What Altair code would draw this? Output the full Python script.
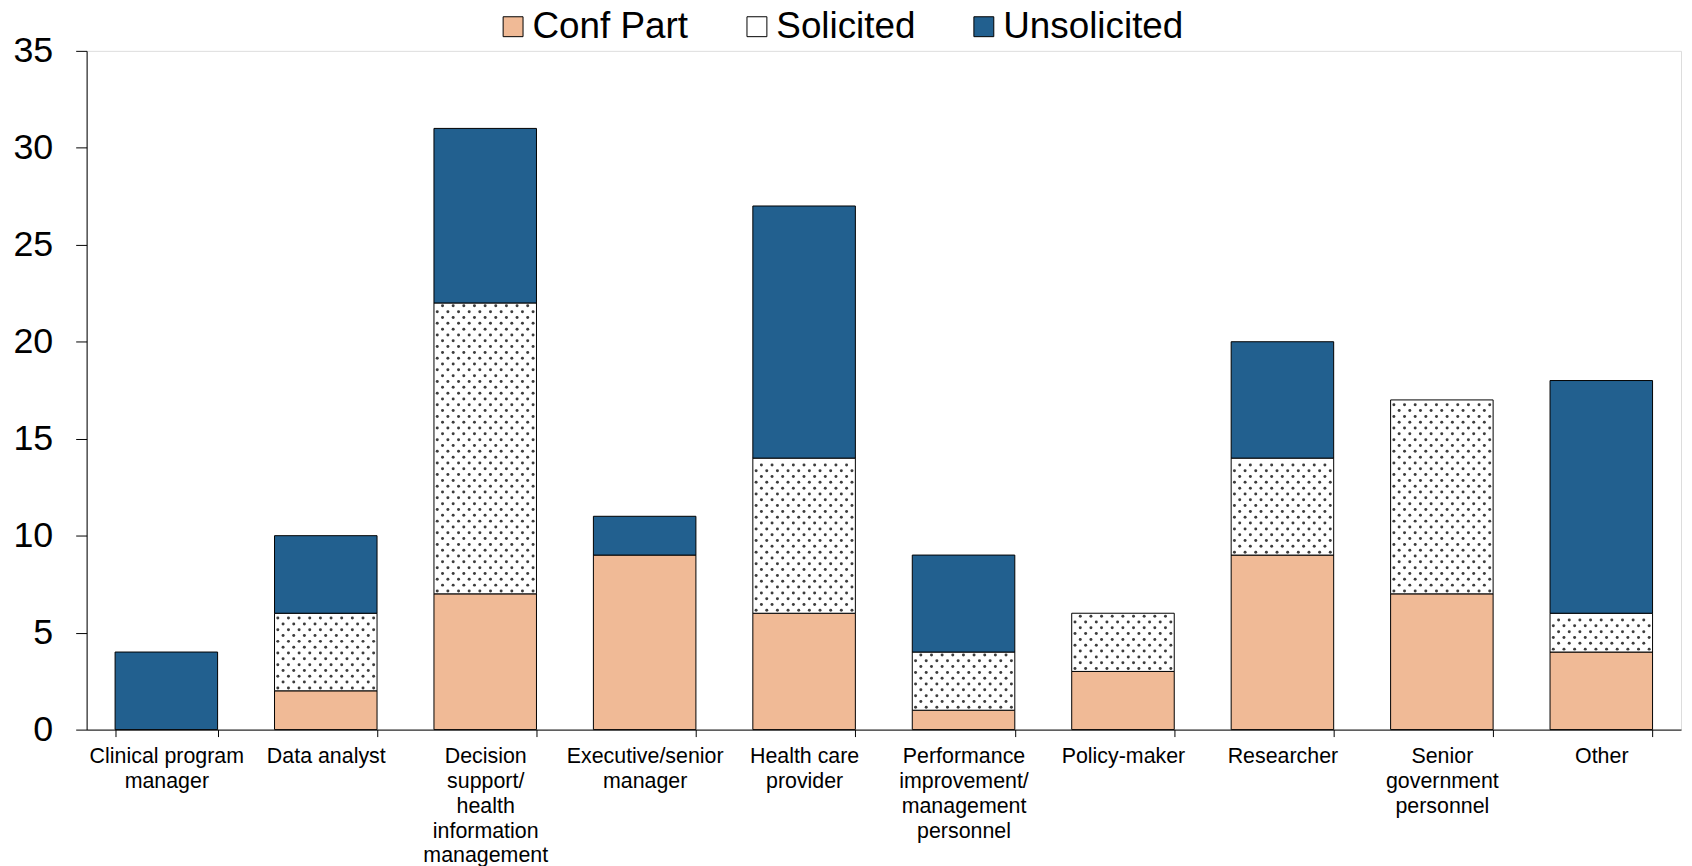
import altair as alt
import pandas as pd

# ---- data ----
categories = [
    "Clinical program|manager",
    "Data analyst",
    "Decision|support/|health|information|management",
    "Executive/senior|manager",
    "Health care|provider",
    "Performance|improvement/|management|personnel",
    "Policy-maker",
    "Researcher",
    "Senior|government|personnel",
    "Other",
]
series = ["Conf Part", "Solicited", "Unsolicited"]
conf_part = [0, 2, 7, 9, 6, 1, 3, 9, 7, 4]
solicited = [0, 4, 15, 0, 8, 3, 3, 5, 10, 2]
unsolicited = [4, 4, 9, 2, 13, 5, 0, 6, 0, 12]
y_ticks = [0, 5, 10, 15, 20, 25, 30, 35]

colors = ["#F0BA96", "#FFFFFF", "#22608F"]
FONT = "Liberation Sans"

rows = []
for i, c in enumerate(categories):
    for k, (s, vals) in enumerate(zip(series, [conf_part, solicited, unsolicited])):
        rows.append({"cat": c, "idx": i, "series": s, "value": vals[i], "ord": k})
df = pd.DataFrame(rows)

PAD_IN = 0.357
PAD_OUT = 0.1785
x_scale = alt.Scale(paddingInner=PAD_IN, paddingOuter=PAD_OUT, round=False)
y_scale = alt.Scale(domain=[0, 35], nice=False)

x_axis = alt.Axis(
    title=None, labelAngle=0, tickBand="extent", labelExpr="split(datum.label, '|')",
    labelFont=FONT, labelFontSize=21.5, labelLineHeight=25, labelColor="black",
    labelPadding=9, labelBaseline="top", tickSize=7, tickColor="black",
    domainColor="black", labelLimit=300, grid=False,
)
y_axis = alt.Axis(
    title=None, values=y_ticks, labelFont=FONT, labelFontSize=36, labelColor="black",
    labelPadding=23, tickSize=11, tickColor="black", domainColor="black", grid=False,
)

base = alt.Chart(df).transform_filter("datum.value > 0").transform_stack(
    stack="value", groupby=["cat"], as_=["y0", "y1"], sort=[alt.SortField("ord")]
)

bars = base.mark_bar(stroke="black", strokeWidth=1, opacity=1).encode(
    x=alt.X("cat:N", sort=categories, scale=x_scale, axis=x_axis),
    y=alt.Y("y1:Q", scale=y_scale, axis=y_axis),
    y2="y0:Q",
    color=alt.Color(
        "series:N",
        scale=alt.Scale(domain=series, range=colors),
        legend=alt.Legend(
            title=None, orient="none", direction="horizontal", legendX=410, legendY=-43,
            padding=0, symbolType="square", symbolSize=400, symbolStrokeColor="black",
            symbolStrokeWidth=1, symbolOpacity=1, labelFont=FONT, labelFontSize=37,
            labelColor="black", labelOffset=1, columnPadding=50, labelLimit=500,
        ),
    ),
)

# dotted texture of the Solicited segments (band geometry: step = 1/10 of width)
dots = (
    base.transform_filter("datum.series == 'Solicited'")
    .transform_calculate(ry="sequence(datum.y0 + 0.15, datum.y1 - 0.05, 0.3)")
    .transform_flatten(["ry"])
    .transform_calculate(
        ri="round((datum.ry - datum.y0 - 0.15) / 0.3)", cx="sequence(0, 10)"
    )
    .transform_flatten(["cx"])
    .transform_calculate(frac="(3.3 + datum.cx * 10.7 + (datum.ri % 2) * 5.3) / 160.2")
    .transform_filter(f"datum.frac < {1 - PAD_IN} - 0.012")
    .transform_calculate(xq=f"datum.idx + {PAD_OUT} + datum.frac")
    .mark_circle(size=9, color="#1a1a1a", opacity=0.85)
    .encode(
        x=alt.X("xq:Q", scale=alt.Scale(domain=[0, 10], nice=False, zero=False), axis=None),
        y=alt.Y("ry:Q", scale=y_scale, axis=y_axis),
    )
)

chart = (
    alt.layer(bars, dots)
    .resolve_scale(x="independent")
    .resolve_axis(x="independent")
    .properties(
        width=1602, height=682, autosize="none",
        padding={"left": 79, "top": 41, "right": 3, "bottom": 137},
    )
    .configure_view(stroke=None)
    .configure(font=FONT)
)

chart.save("out.html", embed_options={"renderer": "svg", "actions": False})
